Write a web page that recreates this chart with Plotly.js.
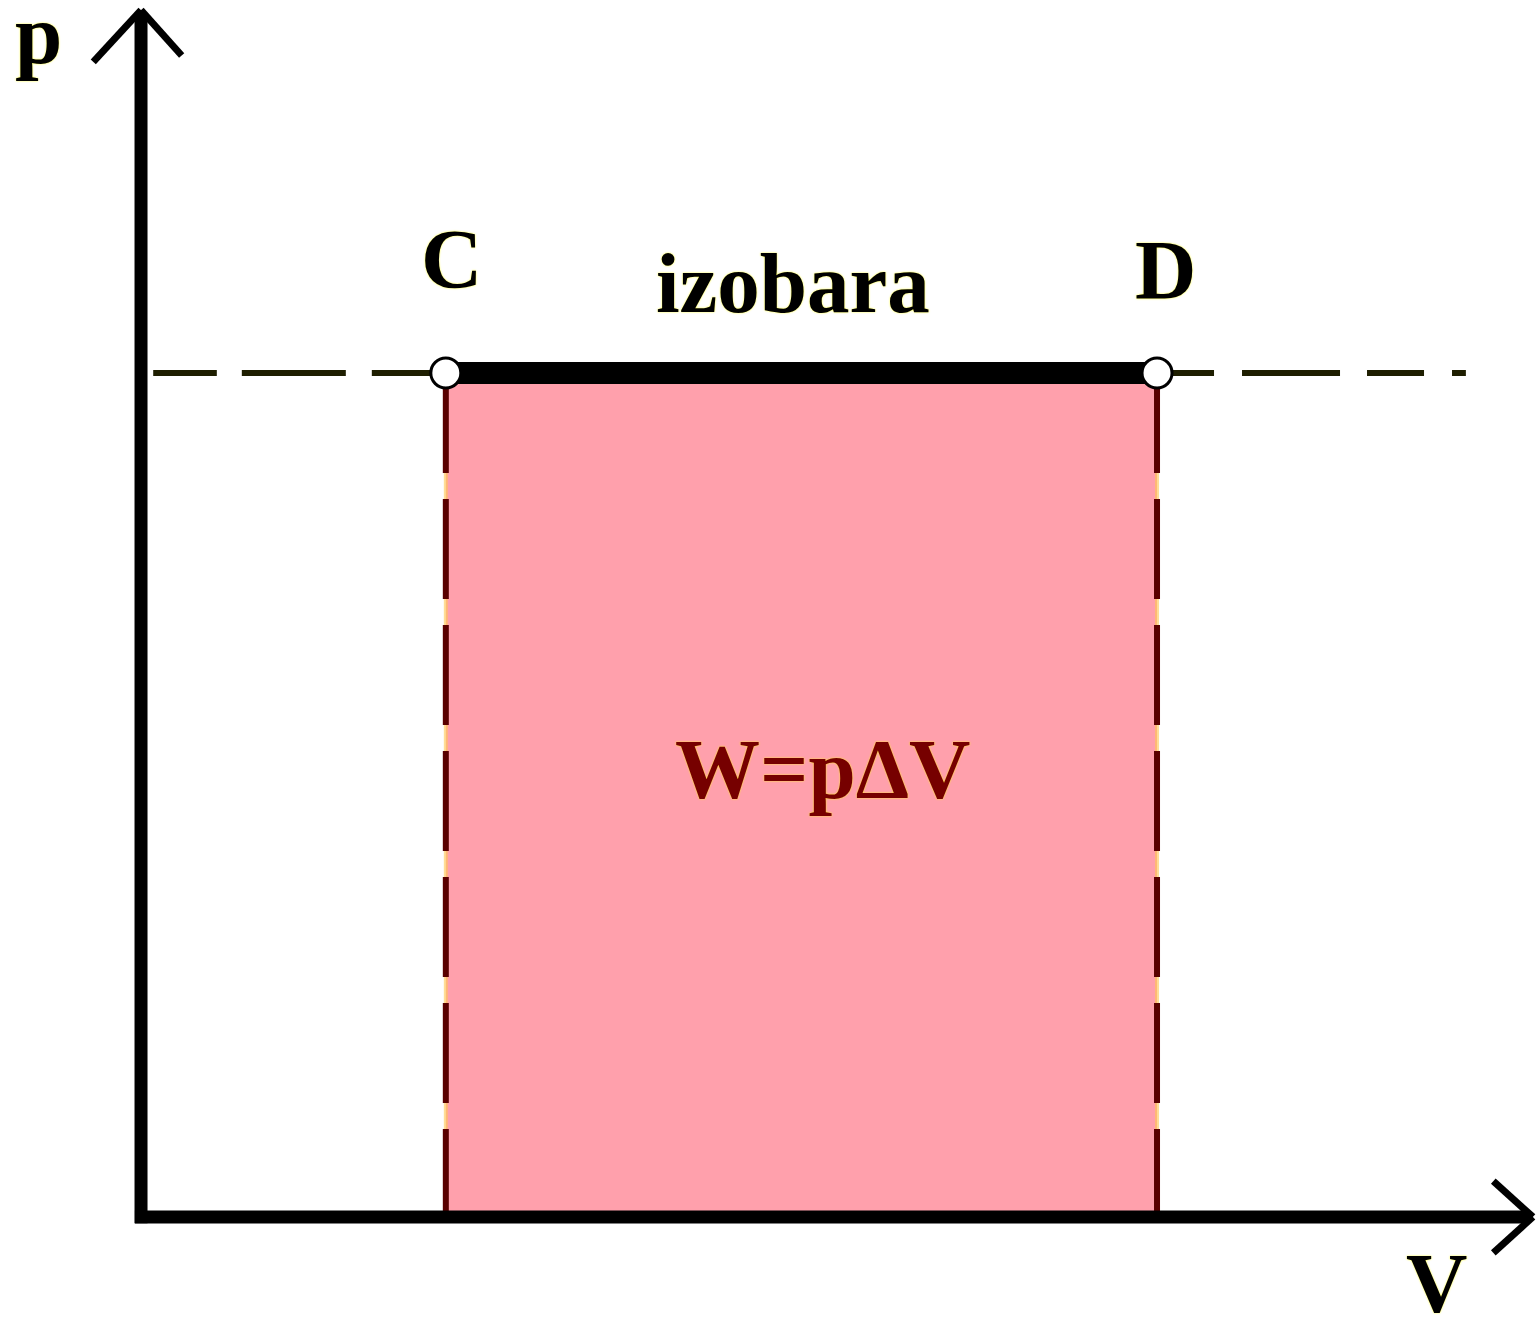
<!DOCTYPE html>
<html>
<head>
<meta charset="utf-8">
<script src="https://cdn.plot.ly/plotly-3.0.1.min.js"></script>
<style>
  html, body { margin: 0; padding: 0; background: #ffffff; }
  #chart { width: 1537px; height: 1325px; }
</style>
</head>
<body>
<div id="chart"></div>
<script>
// ---- data ----
const stateLabels = ['C', 'D'];        // states on the isobar
const stateVolumes = [3, 10];          // V at C and D
const isobarPressure = 8;              // constant p of the isobaric process
const processLabel = 'izobara';
const workLabel = 'W=p\u0394V';
const xAxisLabel = 'V';
const yAxisLabel = 'p';

// ---- derived ----
const vC = stateVolumes[0];
const vD = stateVolumes[1];
const p = isobarPressure;

const serif = 'Liberation Serif, Times New Roman, serif';
const glow = '0px 0px 2px rgba(255,255,0,0.9)';

const traces = [
  // work area under the isobar
  {
    x: [vC, vC, vD, vD, vC],
    y: [0, p, p, 0, 0],
    mode: 'lines', fill: 'toself',
    fillcolor: 'rgb(255,160,172)',
    line: {width: 0, color: 'rgba(0,0,0,0)'},
    hoverinfo: 'skip'
  },
  // pale underlay for the vertical dashed edges
  {
    x: [vC, vC], y: [p, 0], mode: 'lines',
    line: {color: 'rgba(255,200,80,0.6)', width: 4}, hoverinfo: 'skip'
  },
  {
    x: [vD, vD], y: [p, 0], mode: 'lines',
    line: {color: 'rgba(255,200,80,0.6)', width: 4}, hoverinfo: 'skip'
  },
  // vertical dashed lines at C and D
  {
    x: [vC, vC], y: [p, 0], mode: 'lines',
    line: {color: '#5a0000', width: 6, dash: '100px,26px'}, hoverinfo: 'skip'
  },
  {
    x: [vD, vD], y: [p, 0], mode: 'lines',
    line: {color: '#5a0000', width: 6, dash: '100px,26px'}, hoverinfo: 'skip'
  },
  // dashed continuation of the isobar (left and right)
  {
    x: [vC, 0.12], y: [p, p], mode: 'lines',
    line: {color: '#1e1e00', width: 6, dash: '74px,26px,104px,25px,104px,26px'}, hoverinfo: 'skip'
  },
  {
    x: [vD, 13.04], y: [p, p], mode: 'lines',
    line: {color: '#1e1e00', width: 6, dash: '57px,28px,98px,27px'}, hoverinfo: 'skip'
  },
  // the isobaric process C -> D
  {
    x: stateVolumes, y: stateVolumes.map(() => p), mode: 'lines',
    line: {color: '#000000', width: 22}, hoverinfo: 'skip'
  },
  // state points
  {
    x: stateVolumes, y: stateVolumes.map(() => p), mode: 'markers',
    marker: {size: 30, color: '#ffffff', line: {color: '#000000', width: 3}},
    hoverinfo: 'skip'
  }
];

const axisColor = '#000000';
const shapes = [
  // p axis
  {type: 'line', xref: 'x', yref: 'y', x0: 0, y0: -0.06, x1: 0, y1: 11.40,
   line: {color: axisColor, width: 13}},
  {type: 'line', xref: 'x', yref: 'y', x0: 0, y0: 11.44, x1: -0.47, y1: 10.95,
   line: {color: axisColor, width: 7}},
  {type: 'line', xref: 'x', yref: 'y', x0: 0, y0: 11.44, x1: 0.40, y1: 11.01,
   line: {color: axisColor, width: 7}},
  // V axis
  {type: 'line', xref: 'x', yref: 'y', x0: -0.06, y0: 0, x1: 13.66, y1: 0,
   line: {color: axisColor, width: 13}},
  {type: 'line', xref: 'x', yref: 'y', x0: 13.70, y0: 0, x1: 13.31, y1: 0.34,
   line: {color: axisColor, width: 7}},
  {type: 'line', xref: 'x', yref: 'y', x0: 13.70, y0: 0, x1: 13.31, y1: -0.34,
   line: {color: axisColor, width: 7}}
];

function label(text, x, y, xshift, yshift, color) {
  return {
    text: text, x: x, y: y, xref: 'x', yref: 'y',
    xshift: xshift, yshift: yshift, showarrow: false,
    xanchor: 'center', yanchor: 'middle',
    font: {family: serif, size: 85, color: color || '#000000', weight: 'bold', shadow: glow}
  };
}

const annotations = [
  label(stateLabels[0], vC, p, 6, 114),
  label(stateLabels[1], vD, p, 8, 103),
  label(processLabel, (vC + vD) / 2, p, -8, 90),
  label(workLabel, (vC + vD) / 2, p / 2, 21, 26, '#760000'),
  label(xAxisLabel, 13.0, 0, -25, -66),
  label(yAxisLabel, 0, 11.4, -103, -20)
];

const layout = {
  width: 1537, height: 1325,
  margin: {l: 0, r: 0, t: 0, b: 0, pad: 0},
  paper_bgcolor: '#ffffff', plot_bgcolor: '#ffffff',
  showlegend: false,
  xaxis: {range: [-1.388, 13.740], visible: false, fixedrange: true},
  yaxis: {range: [-1.024, 11.536], visible: false, fixedrange: true},
  shapes: shapes,
  annotations: annotations
};

Plotly.newPlot('chart', traces, layout, {staticPlot: true, displayModeBar: false});
</script>
</body>
</html>
